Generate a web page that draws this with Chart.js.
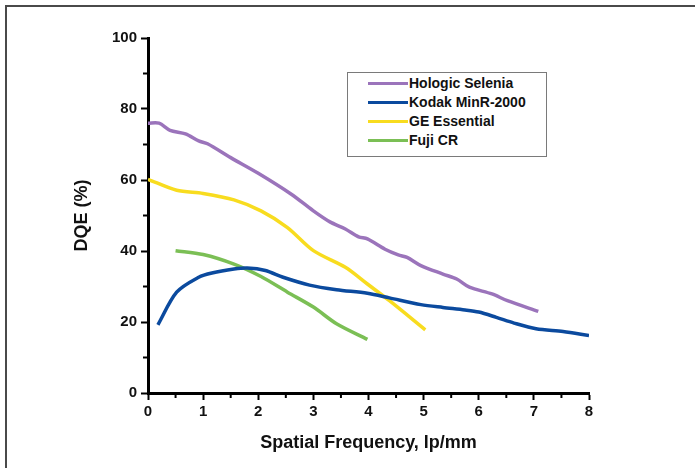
<!DOCTYPE html>
<html>
<head>
<meta charset="utf-8">
<script src="https://cdn.jsdelivr.net/npm/chart.js@4.4.1/dist/chart.umd.min.js"></script>
<style>
  html, body { margin: 0; padding: 0; background: #fff; }
  #wrap { position: relative; width: 695px; height: 468px; overflow: hidden; }
  #frame { position: absolute; left: 5px; top: 5px; width: 700px; height: 480px;
    border-top: 2px solid #4a4a4a; border-left: 2px solid #4a4a4a; }
  canvas { position: absolute; left: 0; top: 0; }
  #legend { position: absolute; left: 347px; top: 72px; width: 198px; height: 83px;
    border: 1px solid #7a7a7a; background: #fff;
    font: bold 14px "Liberation Sans", Arial, sans-serif; color: #111; }
  #legend .row { position: absolute; left: 0; height: 19px; line-height: 19px; white-space: nowrap; }
  #legend .swatch { position: absolute; left: 20px; top: 8px; width: 40px; height: 3px; }
  #legend .label { position: absolute; left: 61px; top: 0; }
</style>
</head>
<body>
<div id="wrap">
  <div id="frame"></div>
  <canvas id="chart" width="695" height="468"></canvas>
  <div id="legend"></div>
</div>
<script>
// values (x in lp/mm, y in DQE %)
const seriesNames = ["Hologic Selenia", "Kodak MinR-2000", "GE Essential", "Fuji CR"];
const seriesColors = ["#9b74bb", "#0b4a9e", "#f8dc1f", "#7bbf55"];

const hologicX = [0, 0.2, 0.4, 0.68, 0.92, 1.08, 1.5, 2.0, 2.6, 3.0, 3.3, 3.58, 3.82, 3.98, 4.3, 4.54, 4.7, 4.95, 5.35, 5.6, 5.83, 6.24, 6.52, 7.08];
const hologicY = [76, 76, 74, 73, 71, 70.2, 66.3, 61.9, 56, 51.3, 48.2, 46.2, 44, 43.4, 40.5, 38.9, 38.2, 35.9, 33.5, 32.1, 29.8, 27.9, 26, 23];

const kodakX = [0.18, 0.52, 0.92, 1.16, 1.56, 1.8, 2.13, 2.45, 2.93, 3.42, 3.98, 4.38, 4.95, 5.35, 5.75, 6.0, 6.32, 6.64, 7.04, 7.53, 8.0];
const kodakY = [19.2, 28.4, 32.6, 33.8, 34.9, 35.2, 34.5, 32.6, 30.4, 29.1, 28.1, 26.8, 24.9, 24.1, 23.4, 22.8, 21.3, 19.7, 18.1, 17.3, 16.2];

const geX = [0, 0.52, 1.0, 1.56, 2.05, 2.53, 3.0, 3.58, 3.98, 4.38, 5.03];
const geY = [60.2, 57.1, 56.2, 54.4, 51.3, 46.6, 40.1, 35.4, 30.7, 26, 17.8];

const fujiX = [0.5, 1.0, 1.56, 2.05, 2.53, 3.0, 3.42, 3.98];
const fujiY = [40.1, 39, 36.3, 32.8, 28.4, 24.2, 19.5, 15.1];

const xTicks = [0, 1, 2, 3, 4, 5, 6, 7, 8];
const yTicks = [0, 20, 40, 60, 80, 100];

const pairs = (xs, ys) => xs.map((x, i) => ({ x: x, y: ys[i] }));
const seriesData = [pairs(hologicX, hologicY), pairs(kodakX, kodakY), pairs(geX, geY), pairs(fujiX, fujiY)];

const FONT = "'Liberation Sans', Arial, sans-serif";

// minor tick marks (shorter than the labelled ones)
const minorTicks = {
  id: "minorTicks",
  afterDraw(chart) {
    const { ctx, scales: { x, y } } = chart;
    ctx.save();
    ctx.strokeStyle = "#000";
    ctx.lineWidth = 2;
    for (let v = 0.5; v < 8; v += 1) {
      const px = x.getPixelForValue(v);
      ctx.beginPath(); ctx.moveTo(px, x.top); ctx.lineTo(px, x.top + 5); ctx.stroke();
    }
    for (let v = 10; v < 100; v += 20) {
      const py = y.getPixelForValue(v);
      ctx.beginPath(); ctx.moveTo(y.right, py); ctx.lineTo(y.right - 5, py); ctx.stroke();
    }
    ctx.restore();
  }
};

new Chart(document.getElementById("chart"), {
  type: "scatter",
  data: {
    datasets: seriesNames.map((name, i) => ({
      label: name,
      data: seriesData[i],
      showLine: true,
      borderColor: seriesColors[i],
      backgroundColor: seriesColors[i],
      borderWidth: 3.5,
      pointRadius: 0,
      tension: 0.3,
    })),
  },
  options: {
    responsive: false,
    animation: false,
    layout: { padding: { left: 0, right: 106, top: 38, bottom: 0 } },
    plugins: { legend: { display: false }, tooltip: { enabled: false } },
    scales: {
      x: {
        type: "linear",
        min: 0,
        max: 8,
        afterFit: (s) => { s.height = 75; },
        afterBuildTicks: (s) => { s.ticks = xTicks.map((v) => ({ value: v })); },
        border: { display: true, color: "#000", width: 3 },
        grid: { drawOnChartArea: false, drawTicks: true, tickLength: 7, tickWidth: 2, tickColor: "#000" },
        ticks: { color: "#111", padding: 3, font: { family: FONT, size: 15, weight: "bold" } },
        title: {
          display: true,
          text: "Spatial Frequency, lp/mm",
          color: "#111",
          font: { family: FONT, size: 18, weight: "bold" },
          padding: { top: 14, bottom: 14 },
        },
      },
      y: {
        type: "linear",
        min: 0,
        max: 100,
        afterFit: (s) => { s.width = 148; },
        afterBuildTicks: (s) => { s.ticks = yTicks.map((v) => ({ value: v })); },
        border: { display: true, color: "#000", width: 3 },
        grid: { drawOnChartArea: false, drawTicks: true, tickLength: 7, tickWidth: 2, tickColor: "#000" },
        ticks: { color: "#111", padding: 4, font: { family: FONT, size: 15, weight: "bold" } },
        title: {
          display: true,
          text: "DQE (%)",
          color: "#111",
          font: { family: FONT, size: 18, weight: "bold" },
          padding: { top: 71, bottom: 71 },
        },
      },
    },
  },
  plugins: [minorTicks],
});

// legend box built from the same series arrays
const legend = document.getElementById("legend");
seriesNames.forEach((name, i) => {
  const row = document.createElement("div");
  row.className = "row";
  row.style.top = (1 + i * 19) + "px";
  row.innerHTML = '<span class="swatch" style="background:' + seriesColors[i] + '"></span><span class="label"></span>';
  row.querySelector(".label").textContent = name;
  legend.appendChild(row);
});
</script>
</body>
</html>
